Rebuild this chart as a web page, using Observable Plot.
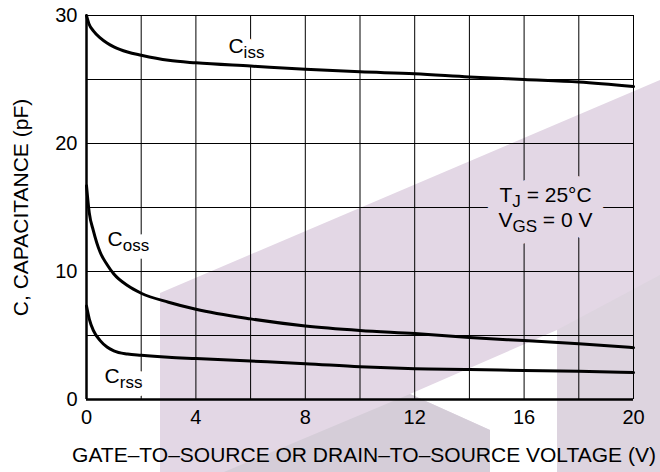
<!DOCTYPE html>
<html>
<head>
<meta charset="utf-8">
<script src="https://cdn.jsdelivr.net/npm/d3@7"></script>
<script src="https://cdn.jsdelivr.net/npm/@observablehq/plot@0.6"></script>
<style>
  html, body { margin: 0; padding: 0; background: #fff; }
  #chart { position: relative; width: 660px; height: 472px; background-color: #fff; background-repeat: no-repeat; }
  #chart svg { display: block; background: transparent; }
</style>
</head>
<body>
<div id="chart"></div>
<script>
// ---- Data ----
const voltage = [0, 0.1, 0.25, 0.5, 0.75, 1, 1.5, 2, 3, 4, 6, 8, 10, 12, 14, 16, 18, 20];
const ciss = [30, 29.3, 28.8, 28.25, 27.85, 27.55, 27.15, 26.9, 26.5, 26.3, 26.05, 25.8, 25.6, 25.45, 25.2, 25.0, 24.8, 24.45];
const coss = [16.7, 14.6, 13.2, 11.5, 10.55, 9.8, 8.9, 8.3, 7.6, 7.05, 6.3, 5.75, 5.4, 5.15, 4.85, 4.6, 4.35, 4.05];
const crss = [7.3, 6.3, 5.4, 4.6, 4.1, 3.8, 3.55, 3.45, 3.3, 3.2, 3.0, 2.8, 2.55, 2.4, 2.35, 2.27, 2.2, 2.1];

const xTicks = [0, 4, 8, 12, 16, 20];
const yTicks = [0, 10, 20, 30];
const xGrid = [0, 2, 4, 6, 8, 10, 12, 14, 16, 18, 20];
const yGrid = [0, 5, 10, 15, 20, 25, 30];

const xTitle = "GATE\u2013TO\u2013SOURCE OR DRAIN\u2013TO\u2013SOURCE VOLTAGE (V)";
const yTitle = "C, CAPACITANCE (pF)";

const curveLabels = ["C_{iss}", "C_{oss}", "C_{rss}"];
const curveLabelV = [5.19, 0.77, 0.66];
const curveLabelC = [27.6, 12.5, 1.84];

const condLabels = ["T_{J} = 25\u00B0C", "V_{GS} = 0 V"];
const condLabelV = [15.1, 15.06];
const condLabelC = [15.98, 14.0];

// ---- Styling ----
const FONT = "'Liberation Sans', Arial, Helvetica, sans-serif";
const LAVENDER = "#e3d7e5";
const SUB_DY = 5;
const SUB_SIZE = "17px";

// background watermark (decoration only)
const bg = `<svg xmlns='http://www.w3.org/2000/svg' width='660' height='472'>` +
  `<polygon points='160,293 660,80 660,472 160,472' fill='${LAVENDER}'/>` +
  `<polygon points='557,330 660,275 660,472 557,472' fill='#ddd4df'/>` +
  `<polygon points='557,330 557,472 490,472 490,430 410,394' fill='#ffffff'/>` +
  `<polygon points='410,394 490,430 490,472 224,472' fill='#d5cdd8'/>` +
  `</svg>`;
document.getElementById("chart").style.backgroundImage = `url("data:image/svg+xml,${encodeURIComponent(bg)}")`;

const series = [
  {name: "Ciss", values: ciss},
  {name: "Coss", values: coss},
  {name: "Crss", values: crss}
];
const rows = series.flatMap(s => voltage.map((v, i) => ({series: s.name, v, c: s.values[i]})));
const curveLabelRows = curveLabels.map((t, i) => ({t, v: curveLabelV[i], c: curveLabelC[i]}));
const condRows = condLabels.map((t, i) => ({t, v: condLabelV[i], c: condLabelC[i]}));

const labelOpts = {x: "v", y: "c", text: "t", textAnchor: "start", lineAnchor: "middle", fontSize: 21};
const halo = (color, w) => ({...labelOpts, fill: color, stroke: color, strokeWidth: w, strokeLinejoin: "round"});

const chart = Plot.plot({
  width: 660,
  height: 472,
  marginLeft: 86,
  marginRight: 27,
  marginTop: 15,
  marginBottom: 73,
  style: {fontFamily: FONT, fontSize: "20px", background: "transparent", color: "#000"},
  x: {domain: [0, 20]},
  y: {domain: [0, 30]},
  marks: [
    Plot.gridX(xGrid, {stroke: "#000", strokeOpacity: 1, strokeWidth: 1}),
    Plot.gridY(yGrid, {stroke: "#000", strokeOpacity: 1, strokeWidth: 1}),
    // halos that interrupt the grid behind the labels
    Plot.text(curveLabelRows, halo("#fff", 16)),
    Plot.text(condRows, halo(LAVENDER, 24)),
    // label text
    Plot.text(curveLabelRows, {...labelOpts, fill: "#000"}),
    Plot.text(condRows, {...labelOpts, fill: "#000"}),
    Plot.line(rows, {x: "v", y: "c", z: "series", stroke: "#000", strokeWidth: 3, curve: "monotone-x"}),
    Plot.ruleX([0], {stroke: "#000", strokeWidth: 2.5}),
    Plot.ruleY([0], {stroke: "#000", strokeWidth: 2.5}),
    Plot.axisX({ticks: xTicks, tickSize: 0, tickPadding: 10, label: null, fontSize: 20}),
    Plot.axisY({ticks: yTicks, tickSize: 0, tickPadding: 9, label: null, fontSize: 20}),
    Plot.text([xTitle], {frameAnchor: "bottom", dx: 4, dy: 56, lineAnchor: "middle", textAnchor: "middle", fontSize: 21, fill: "#000"}),
    Plot.text([yTitle], {frameAnchor: "left", dx: -65, rotate: -90, lineAnchor: "middle", textAnchor: "middle", fontSize: 21, fill: "#000"})
  ]
});

// turn "_{...}" into subscripts
const NS = "http://www.w3.org/2000/svg";
chart.querySelectorAll("text").forEach(t => {
  const s = t.textContent;
  if (!s.includes("_{")) return;
  const parts = s.split(/_\{([^}]*)\}/);
  while (t.firstChild) t.removeChild(t.firstChild);
  let shifted = false;
  parts.forEach((p, i) => {
    if (p === "") return;
    const ts = document.createElementNS(NS, "tspan");
    ts.textContent = p;
    if (i % 2 === 1) {
      ts.setAttribute("dy", SUB_DY);
      ts.setAttribute("font-size", SUB_SIZE);
      shifted = true;
    } else if (shifted) {
      ts.setAttribute("dy", -SUB_DY);
      shifted = false;
    }
    t.appendChild(ts);
  });
});

document.getElementById("chart").appendChild(chart);
</script>
</body>
</html>
